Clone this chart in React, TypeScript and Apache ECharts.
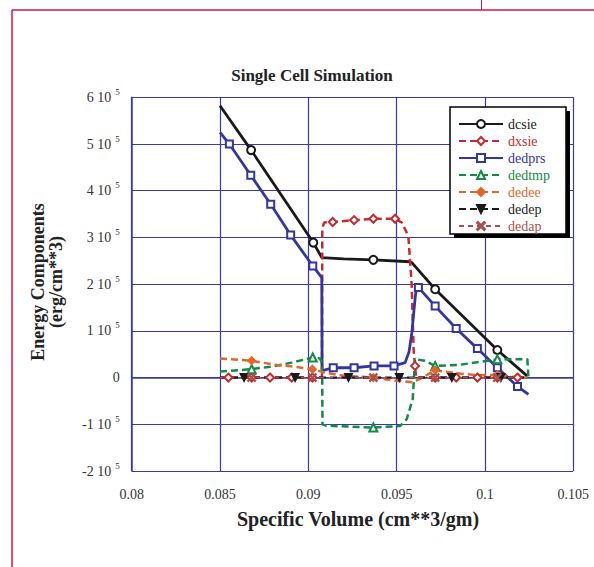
import React, { useEffect, useRef } from "react";
import * as echarts from "echarts";

// [x (cm**3/gm), y (erg/cm**3), marker flag]
const dcsie: number[][] = [
  [0.085, 582000, 0], [0.08676, 487000, 1], [0.09028, 289000, 1], [0.09076, 257000, 0],
  [0.0920, 254000, 0], [0.09368, 252000, 1], [0.09576, 248000, 0], [0.09586, 246000, 0],
  [0.09718, 189000, 1], [0.1007, 59000, 1], [0.1024, 3000, 0],
];
const dxsie: number[][] = [
  [0.085, 0, 0], [0.08547, 0, 1], [0.08679, 0, 1], [0.08783, 0, 1], [0.08906, 0, 1], [0.09023, 0, 1],
  [0.09077, 0, 0], [0.09079, 320000, 0], [0.0909, 332000, 0], [0.09138, 333000, 1], [0.09259, 337000, 1],
  [0.09368, 340000, 1], [0.09491, 340000, 1], [0.09529, 332000, 0], [0.09566, 303000, 0],
  [0.09585, 200000, 0], [0.09596, 60000, 0], [0.09604, 25000, 1], [0.0961, 0, 0], [0.09718, 0, 1],
  [0.09837, 0, 1], [0.09957, 0, 1], [0.1007, 0, 1], [0.10184, 0, 1], [0.1024, 0, 0],
];
const dedprs: number[][] = [
  [0.085, 525000, 0], [0.08553, 500000, 1], [0.08674, 433000, 1], [0.08787, 371000, 1], [0.089, 305000, 1],
  [0.09025, 239000, 1], [0.09076, 214000, 0], [0.09078, 14000, 0], [0.0910, 17000, 0], [0.09141, 21000, 1],
  [0.09259, 21000, 1], [0.09372, 25000, 1], [0.09485, 25000, 1], [0.09548, 32000, 0], [0.0957, 55000, 0],
  [0.09586, 96000, 0], [0.09604, 168000, 0], [0.09614, 200000, 0], [0.09623, 193000, 1], [0.09718, 153000, 1],
  [0.09837, 105000, 1], [0.09957, 62000, 1], [0.1007, 21000, 1], [0.10184, -19000, 1], [0.10246, -36000, 0],
];
const dedtmp: number[][] = [
  [0.085, 13000, 0], [0.08679, 18000, 1], [0.088, 24000, 0], [0.08906, 32000, 0], [0.09025, 43000, 1],
  [0.09066, 41000, 0], [0.09078, 30000, 0], [0.0908, -100000, 0], [0.091, -103000, 0], [0.09368, -107000, 1],
  [0.0952, -103500, 0], [0.09557, -89000, 0], [0.09591, -46000, 0], [0.09604, 39000, 0], [0.0966, 36000, 0],
  [0.09718, 25000, 1], [0.0985, 27000, 0], [0.1007, 39000, 1], [0.1024, 39000, 0], [0.10246, 0, 0],
];
const dedee: number[][] = [
  [0.085, 41000, 0], [0.08679, 36000, 1], [0.088, 28000, 0], [0.089, 24000, 0], [0.09023, 18000, 1],
  [0.091, 10000, 0], [0.092, 4000, 0], [0.09368, 0, 1], [0.095, -7000, 0], [0.09594, -10000, 0],
  [0.0966, 3000, 0], [0.09718, 16000, 1], [0.0982, 10000, 0], [0.09957, 5000, 0], [0.1007, 6000, 1],
  [0.1019, 0, 0], [0.1024, 0, 0],
];
const dedep: number[][] = [
  [0.085, 0, 0], [0.08636, 0, 1], [0.08925, 0, 1], [0.09227, 0, 1], [0.09515, 0, 1], [0.09812, 0, 1],
  [0.1009, 0, 1], [0.1024, 0, 0],
];
const dedap: number[][] = [
  [0.085, 0, 0], [0.08679, 0, 1], [0.09023, 0, 1], [0.09368, 0, 1], [0.09718, 0, 1], [0.1007, 0, 1],
  [0.1024, 0, 0],
];

const seriesNames = ["dcsie", "dxsie", "dedprs", "dedtmp", "dedee", "dedep", "dedap"];
const xTicks = ["0.08", "0.085", "0.09", "0.095", "0.1", "0.105"];

const FONT = "Liberation Serif";
const GRID = "#3a3aa6";
const XMARK = "path://M0,1L1,0L5,4L9,0L10,1L6,5L10,9L9,10L5,6L1,10L0,9L4,5Z";

const toData = (pts: number[][]) =>
  pts.map((p) => (p[2] ? { value: [p[0], p[1]] } : { value: [p[0], p[1]], symbol: "none" }));

export default function App() {
  const ref = useRef<HTMLDivElement>(null);
  useEffect(() => {
    const chart = echarts.init(ref.current!, undefined, { renderer: "svg" });
    const styles = [
      { data: dcsie, color: "#1a1a1a", type: "solid", width: 2.8, symbol: "emptyCircle", size: 8 },
      { data: dxsie, color: "#c62a2f", type: [7, 4], width: 2.5, symbol: "emptyDiamond", size: 8 },
      { data: dedprs, color: "#3535a0", type: "solid", width: 2.8, symbol: "emptyRect", size: 7 },
      { data: dedtmp, color: "#138a45", type: [7, 4], width: 2.5, symbol: "emptyTriangle", size: 8 },
      { data: dedee, color: "#e0682c", type: [7, 4], width: 2.5, symbol: "diamond", size: 8 },
      { data: dedep, color: "#1a1a1a", type: [7, 4], width: 2, symbol: "triangle", size: 8, rotate: 180 },
      { data: dedap, color: "#a8524f", type: [5, 4], width: 1.2, symbol: XMARK, size: 8 },
    ];
    const textColors = ["#222", "#c62a2f", "#3535a0", "#138a45", "#e0682c", "#222", "#a8524f"];
    chart.setOption({
      animation: false,
      backgroundColor: "#ffffff",
      grid: { left: 131.7, top: 97.3, width: 441.6, height: 373.7, containLabel: false, outerBoundsMode: "none" },
      xAxis: {
        type: "value",
        min: 0.08,
        max: 0.105,
        interval: 0.005,
        axisLine: { show: true, lineStyle: { color: GRID, width: 1.5 } },
        axisTick: { show: true, inside: true, length: 3, lineStyle: { color: GRID } },
        splitLine: { show: true, lineStyle: { color: GRID, width: 1.2 } },
        axisLabel: {
          margin: 16,
          color: "#333",
          fontSize: 14,
          fontFamily: FONT,
          formatter: (v: number) => {
            const i = Math.round((v - 0.08) / 0.005);
            return xTicks[i] ?? "";
          },
        },
      },
      yAxis: {
        type: "value",
        min: -200000,
        max: 600000,
        interval: 100000,
        axisLine: { show: true, lineStyle: { color: GRID, width: 1.5 } },
        axisTick: { show: false },
        splitLine: { show: true, lineStyle: { color: GRID, width: 1.2 } },
        axisLabel: {
          margin: 12,
          color: "#333",
          fontSize: 14,
          fontFamily: FONT,
          formatter: (v: number) => {
            const n = Math.round(v / 100000);
            return n === 0 ? "{a|0}" : `{a|${n} 10}{s|5}`;
          },
          rich: {
            a: { fontSize: 14, fontFamily: FONT, color: "#333" },
            s: { fontSize: 9, fontFamily: FONT, color: "#333", padding: [0, 0, 11, 4] },
          },
        },
      },
      legend: {
        z: 20,
        orient: "vertical",
        left: 458,
        top: 117,
        itemWidth: 44,
        itemHeight: 10,
        itemGap: 3,
        padding: 0,
        textStyle: { fontFamily: FONT, fontSize: 14, lineHeight: 12 },
        data: seriesNames.map((n, i) => ({ name: n, textStyle: { color: textColors[i] } })),
      },
      graphic: [
        { type: "line", shape: { x1: 12, y1: 10, x2: 600, y2: 10 }, style: { stroke: "#d4154a", lineWidth: 1.5 } },
        { type: "line", shape: { x1: 12, y1: 10, x2: 12, y2: 600 }, style: { stroke: "#d4154a", lineWidth: 1.5 } },
        { type: "line", shape: { x1: 481.5, y1: 0, x2: 481.5, y2: 10 }, style: { stroke: "#d4154a", lineWidth: 1 } },
        {
          type: "text", x: 312, y: 75,
          style: { text: "Single Cell Simulation", font: `bold 17px ${FONT}`, fill: "#222", textAlign: "center", textVerticalAlign: "middle" },
        },
        {
          type: "text", x: 358, y: 519,
          style: { text: "Specific Volume (cm**3/gm)", font: `bold 20px ${FONT}`, fill: "#222", textAlign: "center", textVerticalAlign: "middle" },
        },
        {
          type: "text", x: 38, y: 282, rotation: Math.PI / 2,
          style: { text: "Energy Components", font: `bold 18px ${FONT}`, fill: "#222", textAlign: "center", textVerticalAlign: "middle" },
        },
        {
          type: "text", x: 56, y: 282, rotation: Math.PI / 2,
          style: { text: "(erg/cm**3)", font: `bold 18px ${FONT}`, fill: "#222", textAlign: "center", textVerticalAlign: "middle" },
        },
        { type: "rect", z: 5, shape: { x: 454, y: 111, width: 116, height: 127 }, style: { fill: "#000" } },
        { type: "rect", z: 6, shape: { x: 450, y: 107, width: 116, height: 127 }, style: { fill: "#fff", stroke: "#000", lineWidth: 1.5 } },
      ],
      series: styles.map((s, i) => ({
        name: seriesNames[i],
        type: "line",
        z: 3,
        data: toData(s.data),
        symbol: s.symbol,
        symbolSize: s.size,
        symbolRotate: (s as any).rotate ?? 0,
        showSymbol: true,
        color: s.color,
        itemStyle: { color: s.color, borderColor: s.color, borderWidth: 1.2 },
        lineStyle: { color: s.color, width: s.width, type: s.type },
        emphasis: { disabled: true },
      })),
    });
    return () => chart.dispose();
  }, []);
  return <div ref={ref} style={{ position: "fixed", left: 0, top: 0, width: 594, height: 567 }} />;
}
